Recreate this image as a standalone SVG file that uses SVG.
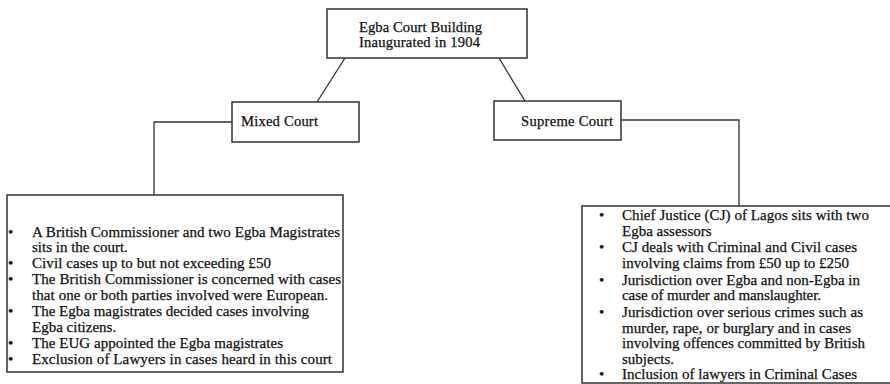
<svg xmlns="http://www.w3.org/2000/svg" width="890" height="384" viewBox="0 0 890 384">
<style>
.box{fill:#fff;stroke:#333;stroke-width:1.5}
.ln{fill:none;stroke:#333;stroke-width:1.3}
text{font-family:"Liberation Serif","Times New Roman",serif;fill:#111;stroke:#111;stroke-width:0.25}
.t{font-size:14.6px}
.b{font-size:15px}
.r{font-size:15px}
</style>
<rect width="890" height="384" fill="#fff"/>
<g id="connectors">
<line class="ln" x1="345" y1="58" x2="317" y2="102"/>
<line class="ln" x1="499" y1="58" x2="525" y2="101"/>
<polyline class="ln" points="232,122 154,122 154,195"/>
<polyline class="ln" points="621,120 739,120 739,206"/>
</g>
<g id="top">
<rect class="box" x="327" y="9" width="200" height="49"/>
<text class="t" x="359" y="32" textLength="123">Egba Court Building</text>
<text class="t" x="359" y="47" textLength="121">Inaugurated in 1904</text>
</g>
<g id="mixed">
<rect class="box" x="232" y="102" width="127" height="40"/>
<text class="t" x="241" y="126" textLength="77">Mixed Court</text>
</g>
<g id="supreme">
<rect class="box" x="494" y="101" width="127" height="39"/>
<text class="t" x="521" y="126" textLength="92">Supreme Court</text>
</g>
<g id="mixed-details">
<rect class="box" x="7" y="195" width="336" height="177"/>
<g class="b">
<text x="8" y="237">•</text>
<text x="32" y="237" textLength="308">A British  Commissioner and two Egba Magistrates</text>
<text x="32" y="252">sits in the court.</text>
<text x="8" y="268">•</text>
<text x="32" y="268" textLength="239">Civil  cases up to but not exceeding £50</text>
<text x="8" y="284">•</text>
<text x="32" y="284" textLength="309">The British  Commissioner is concerned with  cases</text>
<text x="32" y="300" textLength="296">that  one or both parties involved  were European.</text>
<text x="8" y="316">•</text>
<text x="32" y="316" textLength="277">The Egba magistrates  decided cases involving</text>
<text x="32" y="332">Egba citizens.</text>
<text x="8" y="348">•</text>
<text x="32" y="348" textLength="251">The EUG appointed the Egba magistrates</text>
<text x="8" y="364">•</text>
<text x="32" y="364" textLength="300">Exclusion  of Lawyers  in  cases heard in this court</text>
</g>
</g>
<g id="supreme-details">
<rect class="box" x="582" y="206" width="312" height="177"/>
<g class="r">
<text x="599" y="220">•</text>
<text x="622" y="220" textLength="247">Chief Justice (CJ) of Lagos sits with two</text>
<text x="622" y="236">Egba assessors</text>
<text x="599" y="252">•</text>
<text x="622" y="252" textLength="235">CJ deals with Criminal and Civil cases</text>
<text x="622" y="268" textLength="227">involving claims from £50 up to £250</text>
<text x="599" y="285">•</text>
<text x="622" y="285" textLength="238">Jurisdiction over Egba and non-Egba in</text>
<text x="622" y="300" textLength="199">case of murder and manslaughter.</text>
<text x="599" y="317">•</text>
<text x="622" y="317" textLength="241">Jurisdiction over serious crimes such as</text>
<text x="622" y="333" textLength="229">murder, rape, or burglary and in cases</text>
<text x="622" y="348" textLength="243">involving offences committed by British</text>
<text x="622" y="364">subjects.</text>
<text x="599" y="379">•</text>
<text x="622" y="379" textLength="235">Inclusion of lawyers in Criminal Cases</text>
</g>
</g>
</svg>
